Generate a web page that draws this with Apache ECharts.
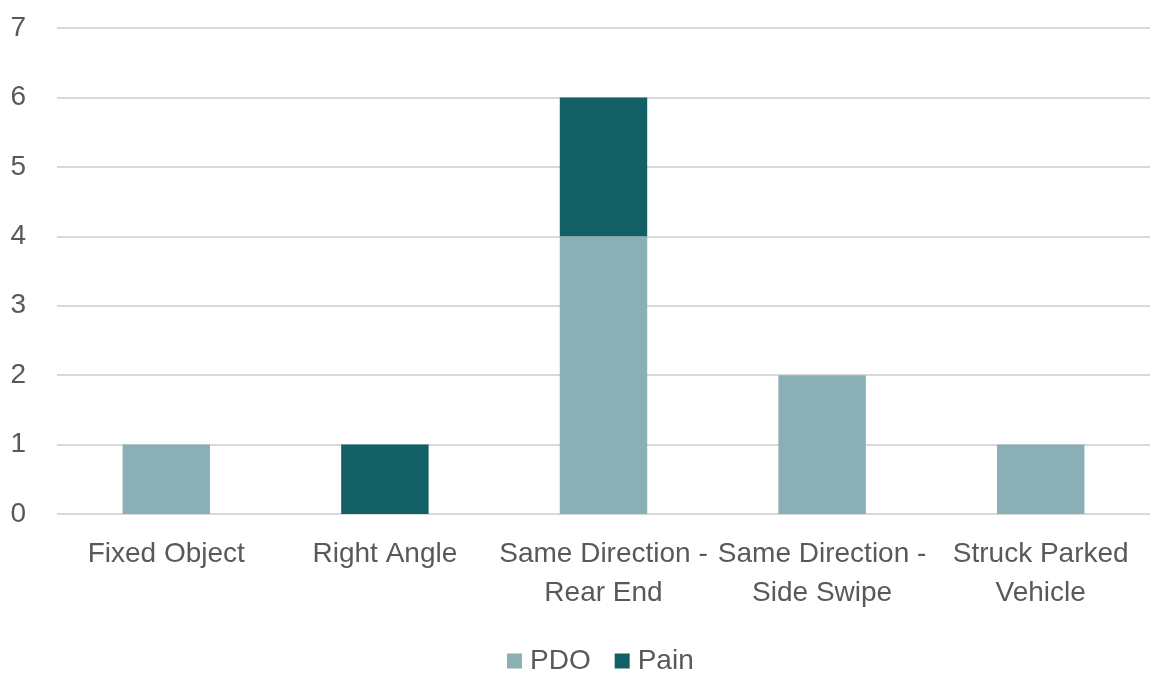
<!DOCTYPE html>
<html>
<head>
<meta charset="utf-8">
<script src="https://cdn.jsdelivr.net/npm/echarts@6/dist/echarts.min.js"></script>
<style>
  html, body { margin: 0; padding: 0; background: #fff; }
  #chart { width: 1150px; height: 673px; }
</style>
</head>
<body>
<div id="chart"></div>
<script>
const categories = ['Fixed Object', 'Right Angle', 'Same Direction -\nRear End', 'Same Direction -\nSide Swipe', 'Struck Parked\nVehicle']
const pdo = [1, 0, 4, 2, 1]
const pain = [0, 1, 2, 0, 0]

const font = '"Liberation Sans Narrow", "Arial Narrow", "Liberation Sans", sans-serif'
const textColor = '#595959'

const chart = echarts.init(document.getElementById('chart'))

chart.setOption({
  animation: false,
  textStyle: { fontFamily: font },
  grid: {
    left: 57,
    right: 0,
    top: 28,
    bottom: 159
  },
  legend: {
    data: ['PDO', 'Pain'],
    left: 507,
    top: 647,
    padding: 0,
    icon: 'rect',
    itemWidth: 15,
    itemHeight: 15,
    itemGap: 24,
    textStyle: { color: textColor, fontSize: 28, fontFamily: font, padding: [0, 0, 0, 3] }
  },
  xAxis: {
    type: 'category',
    data: categories,
    axisLine: { show: false },
    axisTick: { show: false },
    axisLabel: {
      color: textColor,
      fontSize: 28,
      fontFamily: font,
      lineHeight: 39,
      margin: 21,
      interval: 0
    }
  },
  yAxis: {
    type: 'value',
    min: 0,
    max: 7,
    interval: 1,
    axisLine: { show: false },
    axisTick: { show: false },
    axisLabel: {
      color: textColor,
      fontSize: 28,
      fontFamily: font,
      margin: 31
    },
    splitLine: { lineStyle: { color: '#d9d9d9', width: 2 } }
  },
  series: [
    {
      name: 'PDO',
      type: 'bar',
      stack: 'total',
      barWidth: '40%',
      data: pdo,
      itemStyle: { color: '#8aafb4' }
    },
    {
      name: 'Pain',
      type: 'bar',
      stack: 'total',
      barWidth: '40%',
      data: pain,
      itemStyle: { color: '#135f66' }
    }
  ]
})

window.addEventListener('resize', () => {
  chart.resize()
})
</script>
</body>
</html>
